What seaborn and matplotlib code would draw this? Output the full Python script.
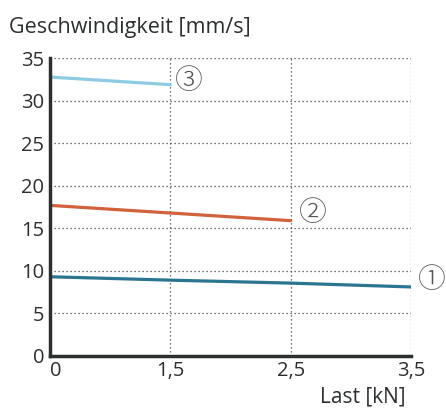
import matplotlib
matplotlib.use("Agg")
import matplotlib.pyplot as plt
import seaborn as sns
import pandas as pd

sns.set_theme(style="white")
plt.rcParams['font.family'] = ['Open Sans', 'Noto Sans', 'DejaVu Sans']

loads = ["0", "1,5", "2,5", "3,5"]
series_1 = [9.3, 8.9, 8.55, 8.1]
series_2 = [17.7, 16.8, 15.9]
series_3 = [32.8, 31.9]
series_labels = ["①", "②", "③"]
colors = ["#2b7591", "#d0623c", "#8dcbe5"]
y_ticks = [0, 5, 10, 15, 20, 25, 30, 35]

rows = []
for name, vals in zip(series_labels, [series_1, series_2, series_3]):
    for x, v in zip(loads, vals):
        rows.append({"Last": x, "v": v, "s": name})
df = pd.DataFrame(rows)

fig = plt.figure(figsize=(4.46, 4.08), dpi=100)
ax = fig.add_axes([0.112, 0.128, 0.8095, 0.729])

sns.lineplot(data=df, x="Last", y="v", hue="s", palette=colors, ax=ax,
             linewidth=2.3, legend=False, sort=False, zorder=3)

ax.set_xlim(0, 3)
ax.set_ylim(0, 35)
ax.set_yticks(y_ticks)
ax.set_xticks(range(len(loads)))
ax.set_xticklabels(loads)
ax.grid(True, linestyle=(0, (1, 2.2)), color="#444444", linewidth=0.9)
for s in ["top", "right"]:
    ax.spines[s].set_visible(False)
for s in ["left", "bottom"]:
    ax.spines[s].set_color("#2b2f2e")
    ax.spines[s].set_linewidth(2.5)
    ax.spines[s].set_zorder(4)
ax.tick_params(axis="both", length=0, labelsize=14.5, colors="#2b2f2e", pad=4)
ax.tick_params(axis="x", pad=4)
ax.get_xticklabels()[0].set_horizontalalignment("left")
ax.set_xlabel("")
ax.set_ylabel("")

# end labels
ends = [(3, series_1[-1], 21, 7), (2, series_2[-1], 22, 8), (1, series_3[-1], 18, 4)]
for (x, y, dx, dy), lab in zip(ends, series_labels):
    ax.annotate(lab, (x, y), xytext=(dx, dy), textcoords="offset pixels",
                fontsize=20, color="#555555", va="center", ha="center", fontweight="light",
                family=['Noto Sans CJK JP', 'DejaVu Sans'], annotation_clip=False)

fig.text(9/446, 1-33/408, "Geschwindigkeit [mm/s]", fontsize=15.5, color="#2b2f2e", ha="left", va="baseline")
fig.text(405/446, 1-402/408, "Last [kN]", fontsize=15, color="#2b2f2e", ha="right", va="baseline")

fig.savefig("out.png", dpi=100)
